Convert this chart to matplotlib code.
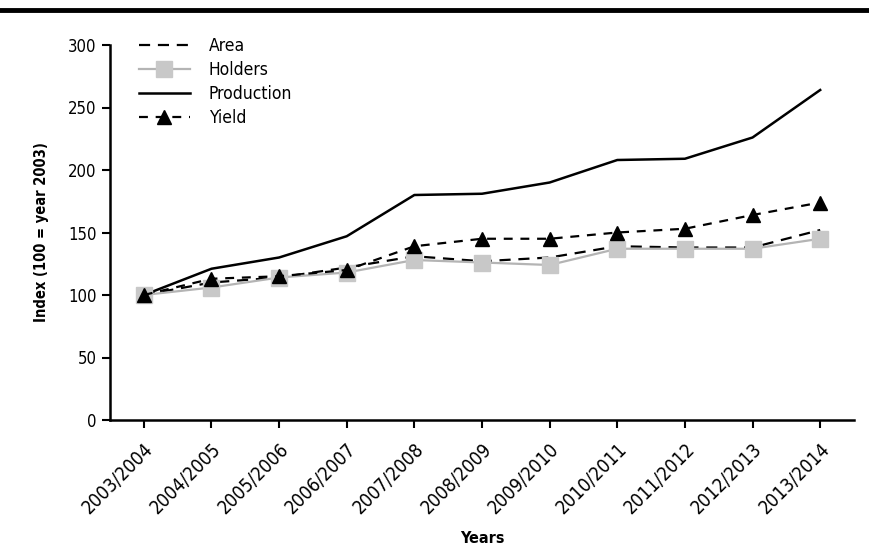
import matplotlib
matplotlib.use("Agg")
import matplotlib.pyplot as plt
from matplotlib.lines import Line2D

plt.rcParams["font.family"] = ["Liberation Sans Narrow", "DejaVu Sans"]
plt.rcParams["font.stretch"] = "condensed"

# ------------------------------------------------------------
# Data (index, 100 = year 2003)
# ------------------------------------------------------------
years = ["2003/2004", "2004/2005", "2005/2006", "2006/2007", "2007/2008",
         "2008/2009", "2009/2010", "2010/2011", "2011/2012", "2012/2013",
         "2013/2014"]
area = [100, 110, 114, 122, 131, 127, 130, 139, 138, 138, 152]
holders = [100, 106, 114, 118, 128, 126, 124, 137, 137, 137, 145]
production = [100, 121, 130, 147, 180, 181, 190, 208, 209, 226, 264]
yield_ = [100, 113, 115, 120, 139, 145, 145, 150, 153, 164, 174]
yticks = [0, 50, 100, 150, 200, 250, 300]

x = list(range(len(years)))

fig = plt.figure(figsize=(8.7, 5.59), dpi=100)
ax = fig.add_axes([110 / 870, 1 - 420 / 559, (854 - 110) / 870, (420 - 45) / 559])

ax.plot(x, area, color="black", lw=1.6, ls=(0, (5, 3.5)), label="Area", zorder=2)
ax.plot(x, holders, color="#b4b4b4", lw=1.6, marker="s", ms=11,
        mfc="#c8c8c8", mec="#c8c8c8", label="Holders", zorder=3)
ax.plot(x, production, color="black", lw=1.8, label="Production", zorder=2)
ax.plot(x, yield_, color="black", lw=1.6, ls=(0, (4, 3.5)), marker="^", ms=10,
        mfc="black", mec="black", label="Yield", zorder=4)

ax.set_xlim(-0.5, 10.5)
ax.set_ylim(0, 300)
ax.set_yticks(yticks)
ax.set_xticks(x)
ax.set_xticklabels(years, rotation=45, ha="right", rotation_mode="anchor")
ax.tick_params(axis="both", width=1.5, length=6, direction="out")
ax.tick_params(axis="y", labelsize=12)
ax.tick_params(axis="x", labelsize=13.5, pad=8)

for side in ["top", "right"]:
    ax.spines[side].set_visible(False)
for side in ["left", "bottom"]:
    ax.spines[side].set_linewidth(1.8)

ax.set_ylabel("Index (100 = year 2003)", fontsize=10.5, fontweight="bold", labelpad=14)
ax.set_xlabel("Years", fontsize=11.5, fontweight="bold", labelpad=10)

ax.legend(loc="upper left", bbox_to_anchor=(0.03, 1.04), frameon=False,
          fontsize=12.5, handlelength=2.9, handletextpad=1.1, labelspacing=0.35,
          borderaxespad=0)

# thick rule along the top of the figure
fig.add_artist(Line2D([0, 1], [1 - 10 / 559, 1 - 10 / 559], color="black", lw=3.5,
                      transform=fig.transFigure))

fig.savefig("out.png", dpi=100)
